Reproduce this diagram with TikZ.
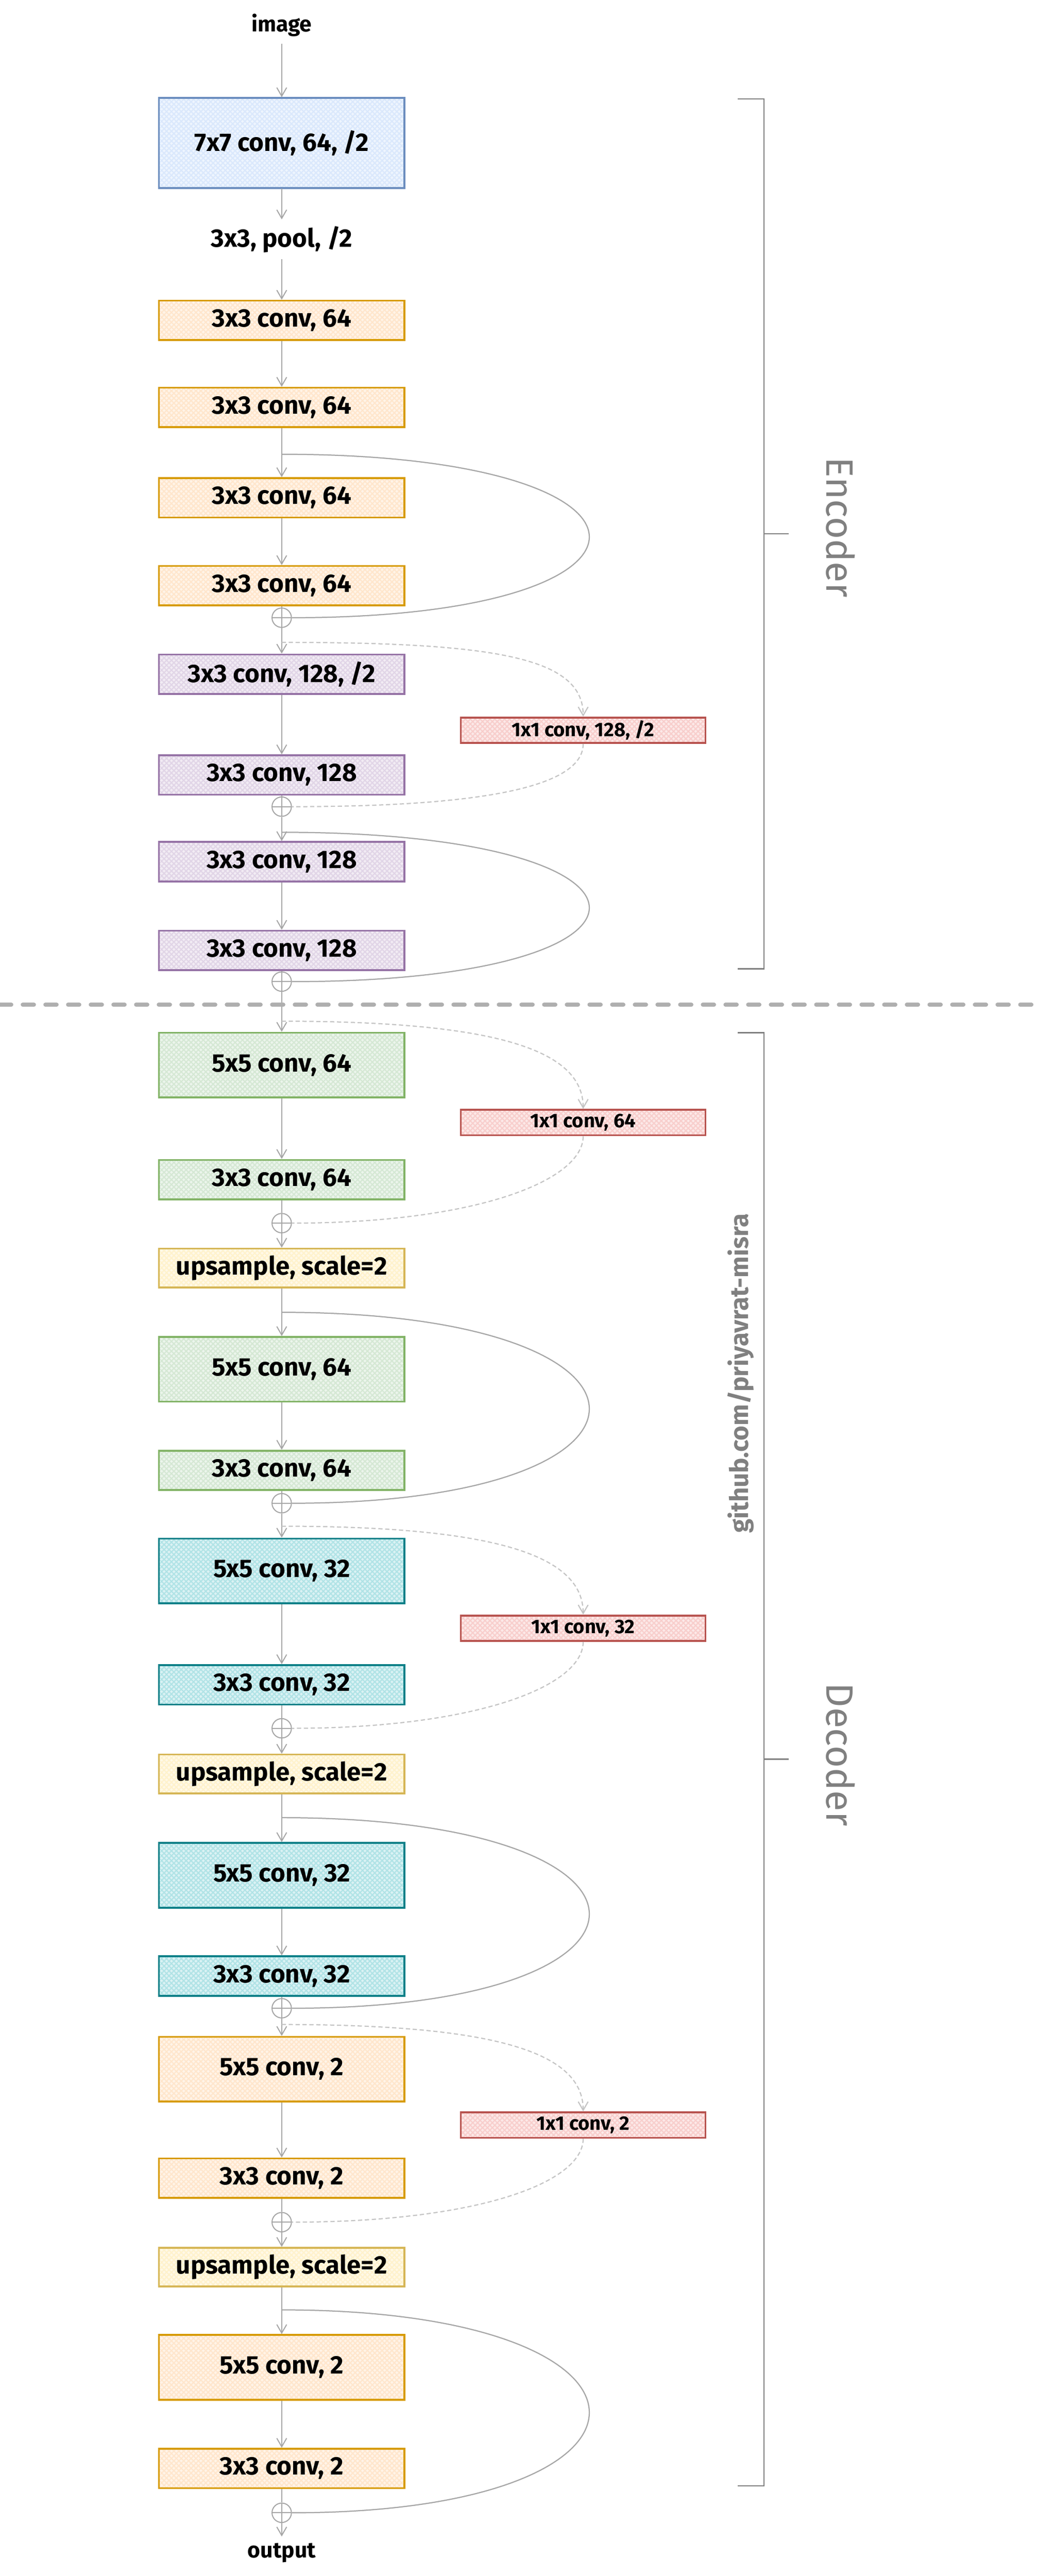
\documentclass[tikz,border=0pt]{standalone}
\usepackage{fontspec}
\setmainfont{Fira Sans}
\usetikzlibrary{arrows.meta,patterns.meta}
\definecolor{blueline}{HTML}{6C8EBF}\definecolor{bluefill}{HTML}{DAE8FC}
\definecolor{orangeline}{HTML}{D79B00}\definecolor{orangefill}{HTML}{FFE6CC}
\definecolor{purpleline}{HTML}{9673A6}\definecolor{purplefill}{HTML}{E1D5E7}
\definecolor{redline}{HTML}{B85450}\definecolor{redfill}{HTML}{F8CECC}
\definecolor{greenline}{HTML}{82B366}\definecolor{greenfill}{HTML}{D5E8D4}
\definecolor{yellowline}{HTML}{D6B656}\definecolor{yellowfill}{HTML}{FFF2CC}
\definecolor{tealline}{HTML}{0E8088}\definecolor{tealfill}{HTML}{B0E3E6}
\definecolor{wire}{HTML}{A6A6A6}
\definecolor{faint}{HTML}{C4C4C4}
\definecolor{note}{HTML}{808080}
\tikzset{
% Layer boxes: outline plus cross hatch in one palette colour
block/.style={draw=#1line,line width=1.6pt,minimum width=74.75mm,inner sep=0,
  preaction={fill=#1fill!45!white},
  preaction={pattern={Lines[angle=45,distance=3pt,line width=1pt]},pattern color=#1fill},
  pattern={Lines[angle=-45,distance=3pt,line width=1pt]},pattern color=#1fill,
  font=\fontsize{22}{24}\selectfont\bfseries},
low box/.style={minimum height=12mm},
high box/.style={minimum height=19.7mm},
side conv/.style={block=red,minimum width=74.5mm,minimum height=7.75mm,
  font=\fontsize{17}{19}\selectfont\bfseries},
label text/.style={inner sep=2mm,font=\fontsize{19}{21}\selectfont\bfseries},
% Adder: circle with a cross
plus/.style={circle,draw=wire,line width=.9pt,minimum size=5.9mm,inner sep=0,
  path picture={\draw[wire,line width=.9pt] (path picture bounding box.north) --
    (path picture bounding box.south) (path picture bounding box.west) --
    (path picture bounding box.east);}},
% Connectors
flow/.style={draw=wire,line width=.9pt,-{Straight Barb[length=2.6mm,width=3mm]}},
wire line/.style={draw=wire,line width=.9pt},
skip/.style={draw=wire,line width=1pt},
dskip/.style={draw=faint,line width=1pt,dash pattern=on 1.3mm off .8mm},
brace/.style={draw=note,line width=1pt}
}
\begin{document}
\begin{tikzpicture}[x=0.5mm,y=-0.5mm]
  \useasboundingbox (0,0) rectangle (631,1568);
  % Encoder
  \node[label text] (img) at (171.5,15.5) {image};
  \node[block=blue,minimum height=27.5mm] (b0) at (171.5,87) {7x7 conv, 64, /2};
  \node[label text,font=\fontsize{22}{24}\selectfont\bfseries] (pool) at (171.5,145.7) {3x3, pool, /2};
  \node[block=orange,low box] (b1) at (171.5,195) {3x3 conv, 64};
  \node[block=orange,low box] (b2) at (171.5,248) {3x3 conv, 64};
  \coordinate (s1) at (171.5,276.5);
  \node[block=orange,low box] (b3) at (171.5,303) {3x3 conv, 64};
  \node[block=orange,low box] (b4) at (171.5,356.5) {3x3 conv, 64};
  \node[plus] (p1) at (171.5,376) {};
  \coordinate (d1) at (171.5,391);
  \node[block=purple,low box] (b5) at (171.5,410.4) {3x3 conv, 128, /2};
  \node[side conv] (r1) at (355,444.5) {1x1 conv, 128, /2};
  \node[block=purple,low box] (b6) at (171.5,471.7) {3x3 conv, 128};
  \node[plus] (p2) at (171.5,491) {};
  \coordinate (s2) at (171.5,506.6);
  \node[block=purple,low box] (b7) at (171.5,524.5) {3x3 conv, 128};
  \node[block=purple,low box] (b8) at (171.5,578.5) {3x3 conv, 128};
  \node[plus] (p3) at (171.5,597.5) {};
  % Decoder
  \coordinate (d2) at (171.5,621.6);
  \node[block=green,high box] (b9) at (171.5,648.3) {5x5 conv, 64};
  \node[side conv] (r2) at (355,683.3) {1x1 conv, 64};
  \node[block=green,low box] (b10) at (171.5,718) {3x3 conv, 64};
  \node[plus] (p4) at (171.5,744.5) {};
  \node[block=yellow,minimum height=11.8mm] (u1) at (171.5,771.8) {upsample, scale=2};
  \coordinate (s3) at (171.5,798.8);
  \node[block=green,high box] (b11) at (171.5,833.5) {5x5 conv, 64};
  \node[block=green,low box] (b12) at (171.5,895) {3x3 conv, 64};
  \node[plus] (p5) at (171.5,915) {};
  \coordinate (d3) at (171.5,929);
  \node[block=teal,high box] (b13) at (171.5,956.2) {5x5 conv, 32};
  \node[side conv] (r3) at (355,991.1) {1x1 conv, 32};
  \node[block=teal,low box] (b14) at (171.5,1025.5) {3x3 conv, 32};
  \node[plus] (p6) at (171.5,1052) {};
  \node[block=yellow,minimum height=11.8mm] (u2) at (171.5,1079.8) {upsample, scale=2};
  \coordinate (s4) at (171.5,1106.4);
  \node[block=teal,high box] (b15) at (171.5,1141.5) {5x5 conv, 32};
  \node[block=teal,low box] (b16) at (171.5,1202.8) {3x3 conv, 32};
  \node[plus] (p7) at (171.5,1222.4) {};
  \coordinate (d4) at (171.5,1232.3);
  \node[block=orange,high box] (b17) at (171.5,1259.5) {5x5 conv, 2};
  \node[side conv] (r4) at (355,1293.5) {1x1 conv, 2};
  \node[block=orange,low box] (b18) at (171.5,1325.8) {3x3 conv, 2};
  \node[plus] (p8) at (171.5,1352.6) {};
  \node[block=yellow,minimum height=11.8mm] (u3) at (171.5,1380) {upsample, scale=2};
  \coordinate (s5) at (171.5,1406);
  \node[block=orange,high box] (b19) at (171.5,1441) {5x5 conv, 2};
  \node[block=orange,low box] (b20) at (171.5,1502.5) {3x3 conv, 2};
  \node[plus] (p9) at (171.5,1529.5) {};
  \node[label text] (out) at (171.5,1554) {output};
  % main line
  \foreach \a/\b in {img/b0,b0/pool,pool/b1,b1/b2,b2/b3,b3/b4,p1/b5,b5/b6,p2/b7,b7/b8,
      p3/b9,b9/b10,p4/u1,u1/b11,b11/b12,p5/b13,b13/b14,p6/u2,u2/b15,b15/b16,
      p7/b17,b17/b18,p8/u3,u3/b19,b19/b20,p9/out}
    \draw[flow] (\a) -- (\b);
  \foreach \a/\b in {b4/p1,b6/p2,b8/p3,b10/p4,b12/p5,b14/p6,b16/p7,b18/p8,b20/p9}
    \draw[wire line] (\a) -- (\b);
  % identity shortcuts
  \foreach \s/\p in {s1/p1,s2/p3,s3/p5,s4/p7,s5/p9}
    \draw[skip] (\s) .. controls +(248,0) and +(243,0) .. (\p.east);
  % projection shortcuts
  \foreach \d/\r/\p in {d1/r1/p2,d2/r2/p4,d3/r3/p6,d4/r4/p8}{
    \draw[dskip,-{Straight Barb[length=2.6mm,width=3mm]}] (\d) .. controls +(130,0) and +(0,-36) .. (\r.north);
    \draw[dskip] (\r.south) .. controls +(0,27) and +(112,0) .. (\p.east);
  }
  % split between the halves
  \draw[line width=3.4pt,faint!85!black!90,line cap=round,dash pattern=on 3.45mm off 3.45mm] (0,611.5) -- (631,611.5);
  % brackets
  \draw[brace] (449,60.2) -- (465,60.2) -- (465,589.7) -- (449,589.7) (465,325) -- (480,325);
  \draw[brace] (449,628.6) -- (465,628.6) -- (465,1513) -- (449,1513) (465,1070.8) -- (480,1070.8);
  \node[rotate=-90,text=note,font=\fontsize{33}{36}\selectfont] (enc) at (511.8,321) {Encoder};
  \node[rotate=-90,text=note,font=\fontsize{33}{36}\selectfont] (dec) at (511.8,1068) {Decoder};
  \node[rotate=90,text=note,font=\fontsize{22}{24}\selectfont\bfseries] (gh) at (451,836) {github.com/priyavrat-misra};
\end{tikzpicture}
\end{document}
